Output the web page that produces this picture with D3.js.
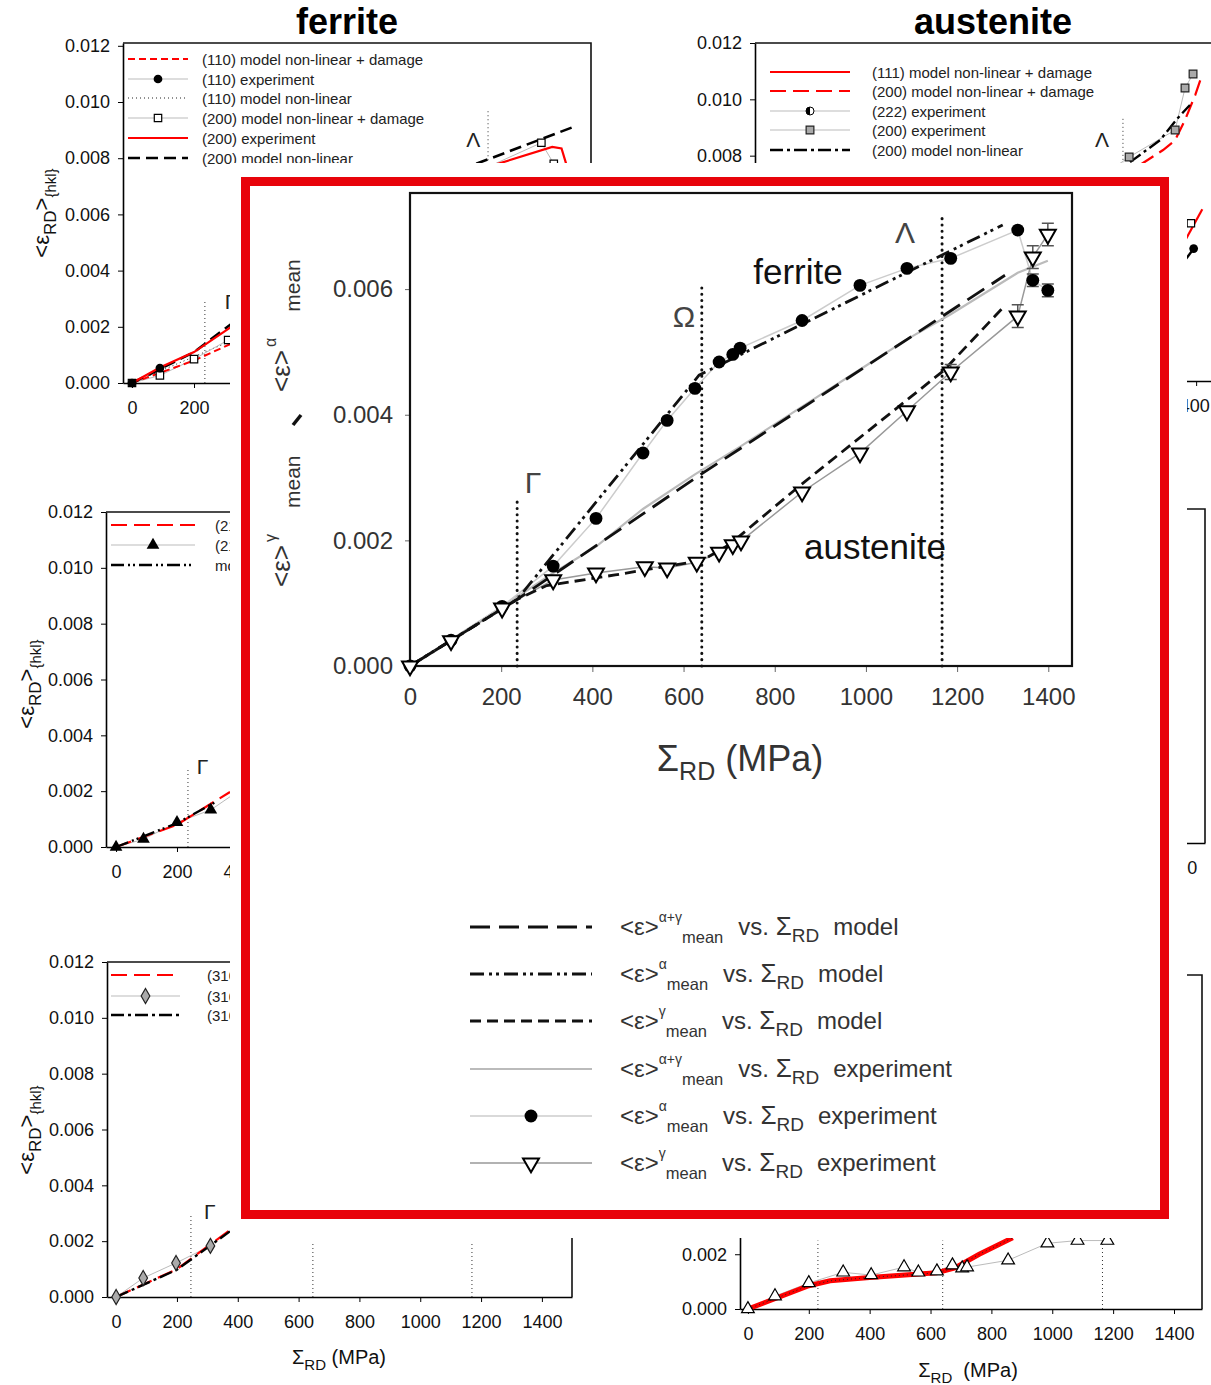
<!DOCTYPE html>
<html>
<head>
<meta charset="utf-8">
<script src="https://cdn.jsdelivr.net/npm/d3@7"></script>
<style>
  body { margin: 0; background: #fff; }
  svg { display: block; }
  text { font-family: "Liberation Sans", Arial, sans-serif; }
</style>
</head>
<body>
<svg id="fig" width="1211" height="1385"></svg>
<script>
// ---------- tick values ----------
const strainTicks = [0, 0.002, 0.004, 0.006, 0.008, 0.010, 0.012]
const stressTicks = [0, 200, 400, 600, 800, 1000, 1200, 1400]
const insetStrainTicks = [0, 0.002, 0.004, 0.006]

// ---------- background panels: [stress MPa, strain] ----------
// ferrite, top left
const fe110Model = [[0, 0], [200, 0.0008], [320, 0.0014]]
const fe110Exp = [[0, 0], [90, 0.00053]]
const fe110Linear = [[0, 0], [320, 0.0015]]
const fe200ExpLow = [[0, 0], [90, 0.00027], [200, 0.00085], [310, 0.00153]]
const fe200ExpHigh = [[1150, 0.0077], [1320, 0.00855], [1360, 0.0078]]
const fe200RedLow = [[0, 0], [90, 0.00055], [200, 0.0011], [320, 0.002]]
const fe200RedHigh = [[1150, 0.0077], [1355, 0.0084], [1385, 0.00835], [1400, 0.0078]]
const fe200LinearLow = [[0, 0], [200, 0.0011], [320, 0.0021]]
const fe200LinearHigh = [[1110, 0.0078], [1420, 0.0091]]
const feLegend = ["(110) model non-linear + damage", "(110) experiment", "(110) model non-linear",
  "(200) model non-linear + damage", "(200) experiment", "(200) model non-linear"]

// austenite, top right
const au200Exp = [[1150, 0.0077], [1183, 0.00795], [1332, 0.00891], [1364, 0.0104], [1390, 0.0109]]
const au200Damage = [[1218, 0.00767], [1293, 0.0082], [1332, 0.00855], [1364, 0.00927], [1397, 0.01015], [1416, 0.01076]]
const au200Linear = [[1186, 0.00777], [1283, 0.00855], [1341, 0.00934], [1380, 0.0098]]
const au111Damage = [[1360, 0.0049], [1420, 0.0061]]
const au222Exp = [[1365, 0.0043], [1392, 0.0047]]
const auLegend = ["(111) model non-linear + damage", "(200) model non-linear + damage",
  "(222) experiment", "(200) experiment", "(200) model non-linear"]

// middle left
const ml211Damage = [[0, 0], [200, 0.0008], [374, 0.00197]]
const ml211Exp = [[0, 0], [90, 0.00028], [200, 0.00088], [311, 0.00133], [374, 0.0018]]
const ml211ExpMarks = [[0, 0], [90, 0.00028], [200, 0.00088], [311, 0.00133]]
const ml211Linear = [[0, 0], [200, 0.00085], [325, 0.0016]]
const mlLegend = ["(211) model non-linear + damage", "(211) experiment", "model non-linear"]

// bottom left
const bl310Damage = [[0, 0], [200, 0.001], [374, 0.0024]]
const bl310Exp = [[0, 0], [89, 0.00068], [197, 0.00122], [310, 0.00183]]
const bl310Linear = [[0, 0], [200, 0.00098], [374, 0.00235]]
const blLegend = ["(310) model non-linear + damage", "(310) experiment", "(310) model non-linear"]

// bottom right
const brExp = [[0, 0], [89, 0.00047], [200, 0.00095], [313, 0.00134], [405, 0.00124], [513, 0.00153],
  [560, 0.00134], [621, 0.00138], [672, 0.0016], [704, 0.00149], [720, 0.00153], [855, 0.00178],
  [984, 0.0024], [1083, 0.0025], [1181, 0.0025]]
const brModel = [[0, 0], [200, 0.00085], [270, 0.00103], [400, 0.00115], [620, 0.00132], [680, 0.0015], [760, 0.002], [870, 0.0026]]

// ---------- inset: mean strains ----------
const ferriteExp = [[0, 0], [90, 0.00041], [202, 0.00095], [314, 0.00159], [408, 0.00235], [511, 0.00339],
  [564, 0.00391], [625, 0.00442], [678, 0.00484], [708, 0.00496], [724, 0.00506], [860, 0.0055],
  [987, 0.00606], [1090, 0.00633], [1186, 0.00649], [1333, 0.00694], [1366, 0.00614], [1399, 0.00598]]
const austeniteExp = [[0, 0], [90, 0.0004], [202, 0.00092], [314, 0.00137], [408, 0.00148], [515, 0.00158],
  [564, 0.00156], [629, 0.00165], [678, 0.00181], [708, 0.00193], [726, 0.00199], [860, 0.00277],
  [987, 0.00339], [1090, 0.00406], [1186, 0.00468], [1333, 0.00557], [1366, 0.00651], [1399, 0.00687]]
const mixExp = [[0, 0], [202, 0.00094], [314, 0.00148], [408, 0.0019], [511, 0.0025], [625, 0.00305],
  [726, 0.0035], [860, 0.00413], [987, 0.00472], [1090, 0.0052], [1186, 0.0056], [1333, 0.00626], [1399, 0.00645]]
const mixModel = [[0, 0], [235, 0.00106], [642, 0.00307], [1305, 0.00622]]
const alphaModel = [[0, 0], [235, 0.00106], [634, 0.00463], [1300, 0.00702]]
const gammaModel = [[0, 0], [235, 0.00106], [300, 0.00128], [450, 0.00145], [640, 0.00168], [700, 0.00193],
  [860, 0.0029], [1170, 0.0047], [1300, 0.0057]]
const austeniteErr = [[1186, 0.00468, 0.00012], [1333, 0.00557, 0.00018], [1366, 0.00651, 0.00018], [1399, 0.00687, 0.00018]]
const ferriteErr = [[1366, 0.00614, 0.0001], [1399, 0.00598, 0.0001]]
const guideStress = [235, 640, 1167]
const guideTop = [0.00269, 0.00609, 0.00718]
const guideNames = ["Γ", "Ω", "Λ"]
const legendKinds = ["model", "model", "model", "experiment", "experiment", "experiment"]
const legendPhase = ["α+γ", "α", "γ", "α+γ", "α", "γ"]

const svg = d3.select("#fig")
const background = svg.append("g")

// ---------- helpers ----------
function rich(parent, x, y, parts) {
  const t = parent.append("text").attr("x", x).attr("y", y)
  let shift = 0
  parts.forEach(p => {
    const s = p.s || 0
    t.append("tspan").attr("dy", s - shift).attr("dx", p.dx || 0)
      .attr("font-size", p.f).text(p.t)
    shift = s
  })
  return t
}

function strokeStyle(sel, s) {
  return sel.attr("fill", "none").attr("stroke", s.stroke).attr("stroke-width", s.w)
    .attr("stroke-dasharray", s.dash || null).attr("stroke-linecap", s.cap || "butt")
}

function marker(g, x, y, m) {
  if (m.type === "half") {
    g.append("circle").attr("cx", x).attr("cy", y).attr("r", m.size)
      .attr("fill", "#fff").attr("stroke", "#000").attr("stroke-width", 1)
    g.append("path").attr("d", `M${x},${y - m.size}A${m.size},${m.size} 0 0 0 ${x},${y + m.size}Z`).attr("fill", "#000")
    return
  }
  const types = { circle: d3.symbolCircle, square: d3.symbolSquare, tri: d3.symbolTriangle, diamond: d3.symbolDiamond, down: d3.symbolTriangle }
  g.append("path").attr("d", d3.symbol(types[m.type], m.size)())
    .attr("transform", `translate(${x},${y})` + (m.type === "down" ? " rotate(180)" : ""))
    .attr("fill", m.fill).attr("stroke", m.stroke || "none").attr("stroke-width", m.sw || 1.2)
}

const S = {
  redDash: { stroke: "#f00", w: 2, dash: "7,4" },
  redLong: { stroke: "#f00", w: 2.2, dash: "16,7" },
  redSolid: { stroke: "#f00", w: 2.2 },
  redThick: { stroke: "#f00", w: 5 },
  grayThin: { stroke: "#bbb", w: 1 },
  blackDot: { stroke: "#222", w: 1, dash: "1,3" },
  blackLong: { stroke: "#000", w: 2.6, dash: "12,6" },
  dashDot: { stroke: "#000", w: 2.4, dash: "13,4,3,4" },
  dashDotDot: { stroke: "#000", w: 2.4, dash: "13,4,2,3,2,4" }
}

function makePanel(p) {
  const x = d3.scaleLinear().domain(p.xd).range([p.left, p.right])
  const y = d3.scaleLinear().domain([0, p.ymax]).range([p.bottom, p.top])
  const g = background.append("g")
  const xAxis = g.append("g").attr("transform", `translate(0,${p.bottom})`)
    .call(d3.axisBottom(x).tickValues(stressTicks).tickFormat(d3.format("d")).tickSize(5).tickSizeOuter(0).tickPadding(13))
  g.append("g").attr("transform", `translate(${p.left},0)`)
    .call(d3.axisLeft(y).tickValues(strainTicks).tickFormat(d3.format(".3f")).tickSize(5).tickSizeOuter(0).tickPadding(8))
  g.selectAll(".domain").attr("stroke-width", 1.6)
  g.selectAll(".tick text").attr("font-size", 18).attr("fill", "#111").attr("font-family", "Liberation Sans, Arial, sans-serif")
  // last stress label nudged when the page edge would cut it
  if (p.lastDx) xAxis.selectAll(".tick text").filter(d => d === 1400).attr("dx", p.lastDx)
  g.append("path").attr("d", `M${p.left},${p.top}H${p.right}V${p.bottom}`)
    .attr("fill", "none").attr("stroke", "#111").attr("stroke-width", 1.6)
  const P = { g, x, y }
  P.line = (data, s) => strokeStyle(g.append("path").datum(data)
    .attr("d", d3.line().x(d => x(d[0])).y(d => y(d[1]))), s)
  P.marks = (data, m) => data.forEach(d => marker(g, x(d[0]), y(d[1]), m))
  P.guide = (v, y0, y1) => g.append("line").attr("x1", x(v)).attr("x2", x(v))
    .attr("y1", y(y0)).attr("y2", y(y1)).attr("stroke", "#333").attr("stroke-width", 1).attr("stroke-dasharray", "1,3")
  P.greek = (t, v, s) => g.append("text").attr("x", x(v)).attr("y", y(s)).attr("text-anchor", "middle")
    .attr("font-family", "Liberation Serif, serif").attr("font-size", 21).attr("fill", "#222").text(t)
  return P
}

// short: only the first word is drawn, the rest lies under the inset anyway
function panelLegend(P, x1, x2, xt, rows, short) {
  rows.forEach(r => {
    strokeStyle(P.g.append("line").attr("x1", x1).attr("x2", x2).attr("y1", r.y).attr("y2", r.y), r.s)
    if (r.m) marker(P.g, (x1 + x2) / 2, r.y, r.m)
    P.g.append("text").attr("x", xt).attr("y", r.y + 5.5).attr("font-size", 15).attr("fill", "#222")
      .text(short ? r.t.split(" ")[0] : r.t)
  })
}

function yTitle(x, cy) {
  const g = background.append("g").attr("transform", `translate(${x},${cy}) rotate(-90)`)
  rich(g, 0, 0, [{ t: "<ε", f: 22 }, { t: "RD", f: 17, s: 7 }, { t: ">", f: 22, s: 0 }, { t: "{hkl}", f: 15, s: 7 }])
    .attr("text-anchor", "middle").attr("fill", "#111")
}

const dot = { type: "circle", fill: "#000", size: 60 }
const openSq = { type: "square", fill: "#fff", stroke: "#000", size: 55 }
const graySq = { type: "square", fill: "#aaa", stroke: "#222", size: 60 }
const half = { type: "half", size: 4 }
const blackTri = { type: "tri", fill: "#000", size: 70 }
const grayDia = { type: "diamond", fill: "#aaa", stroke: "#222", size: 65 }
const openTri = { type: "tri", fill: "#fff", stroke: "#000", size: 70 }

// ---------- titles ----------
svg.append("text").attr("x", 347).attr("y", 34).attr("text-anchor", "middle")
  .attr("font-size", 36).attr("font-weight", "bold").text("ferrite")
svg.append("text").attr("x", 993).attr("y", 34).attr("text-anchor", "middle")
  .attr("font-size", 36).attr("font-weight", "bold").text("austenite")

// ---------- top left (ferrite) ----------
const TL = makePanel({ xd: [-29, 1480], left: 123, right: 591, ymax: 0.0121, top: 43, bottom: 383 })
TL.guide(235, 0, 0.0029)
TL.guide(1148, 0.0075, 0.0097)
TL.greek("Γ", 318, 0.00262)
TL.greek("Λ", 1100, 0.0084)
TL.line(fe110Linear, S.blackDot)
TL.line(fe200ExpLow, S.grayThin)
TL.line(fe200ExpHigh, S.grayThin)
TL.line(fe110Exp, S.grayThin)
TL.line(fe110Model, S.redDash)
TL.line(fe200LinearLow, S.blackLong)
TL.line(fe200LinearHigh, S.blackLong)
TL.line(fe200RedLow, S.redSolid)
TL.line(fe200RedHigh, S.redSolid)
TL.marks(fe200ExpLow, openSq)
TL.marks(fe200ExpHigh.slice(1), openSq)
TL.marks(fe110Exp, dot)
panelLegend(TL, 128, 188, 202, [
  { y: 59, s: S.redDash, t: feLegend[0] },
  { y: 79, s: S.grayThin, m: dot, t: feLegend[1] },
  { y: 98, s: S.blackDot, t: feLegend[2] },
  { y: 118, s: S.grayThin, m: openSq, t: feLegend[3] },
  { y: 138, s: S.redSolid, t: feLegend[4] },
  { y: 158, s: S.blackLong, t: feLegend[5] }
])
yTitle(49, 213)

// ---------- top right (austenite) ----------
const TR = makePanel({ xd: [-29, 1500], left: 755, right: 1227, ymax: 0.012, top: 43, bottom: 381, lastDx: -7 })
TR.guide(1163, 0.007, 0.0094)
TR.greek("Λ", 1095, 0.0083)
TR.line(au200Exp, S.grayThin)
TR.line(au200Damage, S.redLong)
TR.line(au200Linear, S.dashDot)
TR.line(au111Damage, S.redSolid)
TR.line(au222Exp, S.dashDot)
TR.marks(au200Exp.slice(1), graySq)
TR.marks([[1383, 0.0056]], openSq)
TR.marks([[1392, 0.0047]], dot)
panelLegend(TR, 770, 850, 872, [
  { y: 72, s: S.redSolid, t: auLegend[0] },
  { y: 91, s: S.redLong, t: auLegend[1] },
  { y: 111, s: S.grayThin, m: half, t: auLegend[2] },
  { y: 130, s: S.grayThin, m: graySq, t: auLegend[3] },
  { y: 150, s: S.dashDot, t: auLegend[4] }
])

// ---------- middle left ----------
const ML = makePanel({ xd: [-33, 1480], left: 106, right: 567, ymax: 0.012, top: 512, bottom: 847 })
ML.guide(236, 0, 0.0028)
ML.greek("Γ", 284, 0.0026)
ML.line(ml211Exp, S.grayThin)
ML.line(ml211Damage, S.redLong)
ML.line(ml211Linear, S.dashDotDot)
ML.marks(ml211ExpMarks, blackTri)
panelLegend(ML, 111, 195, 215, [
  { y: 525, s: S.redLong, t: mlLegend[0] },
  { y: 545, s: S.grayThin, m: blackTri, t: mlLegend[1] },
  { y: 565, s: S.dashDotDot, t: mlLegend[2] }
], true)
yTitle(34, 684)

// ---------- middle right (mostly hidden) ----------
makePanel({ xd: [-26, 1492], left: 738, right: 1205, ymax: 0.012, top: 509, bottom: 843 })

// ---------- bottom left ----------
const BL = makePanel({ xd: [-30, 1499], left: 107, right: 572, ymax: 0.012, top: 962, bottom: 1297 })
BL.guide(246, 0, 0.003)
BL.guide(647, 0, 0.0019)
BL.guide(1170, 0, 0.0019)
BL.greek("Γ", 308, 0.0028)
BL.line(bl310Exp, S.grayThin)
BL.line(bl310Damage, S.redLong)
BL.line(bl310Linear, S.dashDot)
BL.marks(bl310Exp, grayDia)
panelLegend(BL, 111, 180, 207, [
  { y: 975, s: S.redLong, t: blLegend[0] },
  { y: 996, s: S.grayThin, m: grayDia, t: blLegend[1] },
  { y: 1015, s: S.dashDot, t: blLegend[2] }
], true)
yTitle(34, 1130)
rich(background, 339, 1364, [{ t: "Σ", f: 20 }, { t: "RD", f: 15, s: 6 }, { t: " (MPa)", f: 20, s: 0 }])
  .attr("text-anchor", "middle").attr("fill", "#111")

// ---------- bottom right ----------
const BR = makePanel({ xd: [-26, 1492], left: 740, right: 1202, ymax: 0.0122, top: 975, bottom: 1309 })
BR.guide(230, 0, 0.0025)
BR.guide(640, 0, 0.0025)
BR.guide(1165, 0, 0.0025)
BR.line(brExp, S.grayThin)
BR.line(brModel, S.redThick)
BR.line(brModel, S.blackDot)
BR.marks(brExp, openTri)
rich(background, 968, 1377, [{ t: "Σ", f: 20 }, { t: "RD", f: 15, s: 6 }, { t: "\u00a0\u00a0(MPa)", f: 20, s: 0 }])
  .attr("text-anchor", "middle").attr("fill", "#111")

// ---------- inset ----------
const cover = { x: 230, y: 163, w: 957, h: 1075 }
// background texts that sit entirely under the inset are not seen: drop them
background.selectAll("text").each(function () {
  const b = this.getBoundingClientRect()
  if (b.left >= cover.x && b.right <= cover.x + cover.w && b.top >= cover.y && b.bottom <= cover.y + cover.h) this.remove()
})
svg.append("rect").attr("x", cover.x).attr("y", cover.y).attr("width", cover.w).attr("height", cover.h).attr("fill", "#fff")
svg.append("rect").attr("x", 245.5).attr("y", 181.5).attr("width", 919).attr("height", 1033)
  .attr("fill", "none").attr("stroke", "#e8030b").attr("stroke-width", 9)

const ix = d3.scaleLinear().domain([0, 1452]).range([410, 1072])
const iy = d3.scaleLinear().domain([0, 0.00753]).range([666, 193])
const inset = svg.append("g")
const ink = "#333"

inset.append("g").attr("transform", "translate(0,666)")
  .call(d3.axisBottom(ix).tickValues(stressTicks).tickFormat(d3.format("d")).tickSize(6).tickSizeOuter(0).tickPadding(16))
inset.append("g").attr("transform", "translate(410,0)")
  .call(d3.axisLeft(iy).tickValues(insetStrainTicks).tickFormat(d3.format(".3f")).tickSize(5).tickSizeOuter(0).tickPadding(12))
inset.selectAll(".tick text").attr("font-size", 24).attr("fill", ink).attr("font-family", "Liberation Sans, Arial, sans-serif")
inset.selectAll(".tick line").attr("stroke", "#666")
inset.append("rect").attr("x", 410).attr("y", 193).attr("width", 662).attr("height", 473)
  .attr("fill", "none").attr("stroke", "#111").attr("stroke-width", 2.2)

const iline = d3.line().x(d => ix(d[0])).y(d => iy(d[1]))
function ipath(data, s) { strokeStyle(inset.append("path").datum(data).attr("d", iline), s) }

guideStress.forEach((v, i) => {
  inset.append("line").attr("x1", ix(v)).attr("x2", ix(v)).attr("y1", iy(0)).attr("y2", iy(guideTop[i]))
    .attr("stroke", "#111").attr("stroke-width", 3).attr("stroke-dasharray", "0.1,6.2").attr("stroke-linecap", "round")
})
const greekPos = [[270, 0.00276], [601, 0.0054], [1086, 0.00673]]
guideNames.forEach((t, i) => {
  inset.append("text").attr("x", ix(greekPos[i][0])).attr("y", iy(greekPos[i][1])).attr("text-anchor", "middle")
    .attr("font-family", "Liberation Serif, serif").attr("font-size", 30).attr("fill", "#444").text(t)
})

const IS = {
  mixModel: { stroke: "#111", w: 2.8, dash: "20,9" },
  alphaModel: { stroke: "#111", w: 2.8, dash: "14,5,3,4,3,5" },
  gammaModel: { stroke: "#111", w: 2.8, dash: "11,6" },
  mixExp: { stroke: "#bbb", w: 2.2 },
  alphaExp: { stroke: "#ccc", w: 1.5 },
  gammaExp: { stroke: "#999", w: 1.5 }
}
ipath(mixExp, IS.mixExp)
ipath(ferriteExp, IS.alphaExp)
ipath(austeniteExp, IS.gammaExp)
ipath(mixModel, IS.mixModel)
ipath(alphaModel, IS.alphaModel)
ipath(gammaModel, IS.gammaModel)

function errBars(data) {
  data.forEach(d => {
    const x = ix(d[0]), y0 = iy(d[1] - d[2]), y1 = iy(d[1] + d[2])
    inset.append("path").attr("d", `M${x},${y0}V${y1}M${x - 6},${y0}H${x + 6}M${x - 6},${y1}H${x + 6}`)
      .attr("stroke", "#555").attr("stroke-width", 1.5).attr("fill", "none")
  })
}
errBars(austeniteErr)
errBars(ferriteErr)
const iDot = { type: "circle", fill: "#000", size: 130 }
const iTri = { type: "down", fill: "#fff", stroke: "#000", size: 110, sw: 2 }
ferriteExp.forEach(d => marker(inset, ix(d[0]), iy(d[1]), iDot))
austeniteExp.forEach(d => marker(inset, ix(d[0]), iy(d[1]), iTri))

inset.append("text").attr("x", 798).attr("y", 284).attr("text-anchor", "middle")
  .attr("font-size", 35).attr("fill", "#111").text("ferrite")
inset.append("text").attr("x", 875).attr("y", 559).attr("text-anchor", "middle")
  .attr("font-size", 35).attr("fill", "#111").text("austenite")

// axis titles of the inset
rich(inset, 740, 771, [{ t: "Σ", f: 36 }, { t: "RD", f: 25, s: 9 }, { t: " (MPa)", f: 36, s: 0 }])
  .attr("text-anchor", "middle").attr("fill", ink)
const phaseY = [[392, "α"], [587, "γ"]]
phaseY.forEach(([cy, ph]) => {
  const g = inset.append("g").attr("transform", `translate(290,${cy}) rotate(-90)`)
  rich(g, 0, 0, [{ t: "<ε>", f: 26 }, { t: ph, f: 16, s: -14, dx: 3 }, { t: "mean", f: 21, s: 10, dx: 26 }]).attr("fill", ink)
})
inset.append("path").attr("d", "M293,425L301,415").attr("stroke", "#111").attr("stroke-width", 3.5)

// ---------- inset legend ----------
const legendRowY = [927, 974, 1021, 1069, 1116, 1163]
const legendStyles = [IS.mixModel, IS.alphaModel, IS.gammaModel, IS.mixExp, IS.alphaExp, IS.gammaExp]
const legendMarks = [null, null, null, null, iDot, iTri]
legendRowY.forEach((y, i) => {
  strokeStyle(inset.append("line").attr("x1", 470).attr("x2", 592).attr("y1", y).attr("y2", y), legendStyles[i])
  if (legendMarks[i]) marker(inset, 531, y, legendMarks[i])
  rich(inset, 620, y + 8, [
    { t: "<ε>", f: 24 },
    { t: legendPhase[i], f: 14, s: -13 },
    { t: "mean", f: 16.5, s: 8 },
    { t: "vs. ", f: 24, s: 0, dx: 15 },
    { t: "Σ", f: 26 },
    { t: "RD", f: 19, s: 7 },
    { t: legendKinds[i], f: 24, s: 0, dx: 14 }
  ]).attr("fill", "#333")
})
</script>
</body>
</html>
